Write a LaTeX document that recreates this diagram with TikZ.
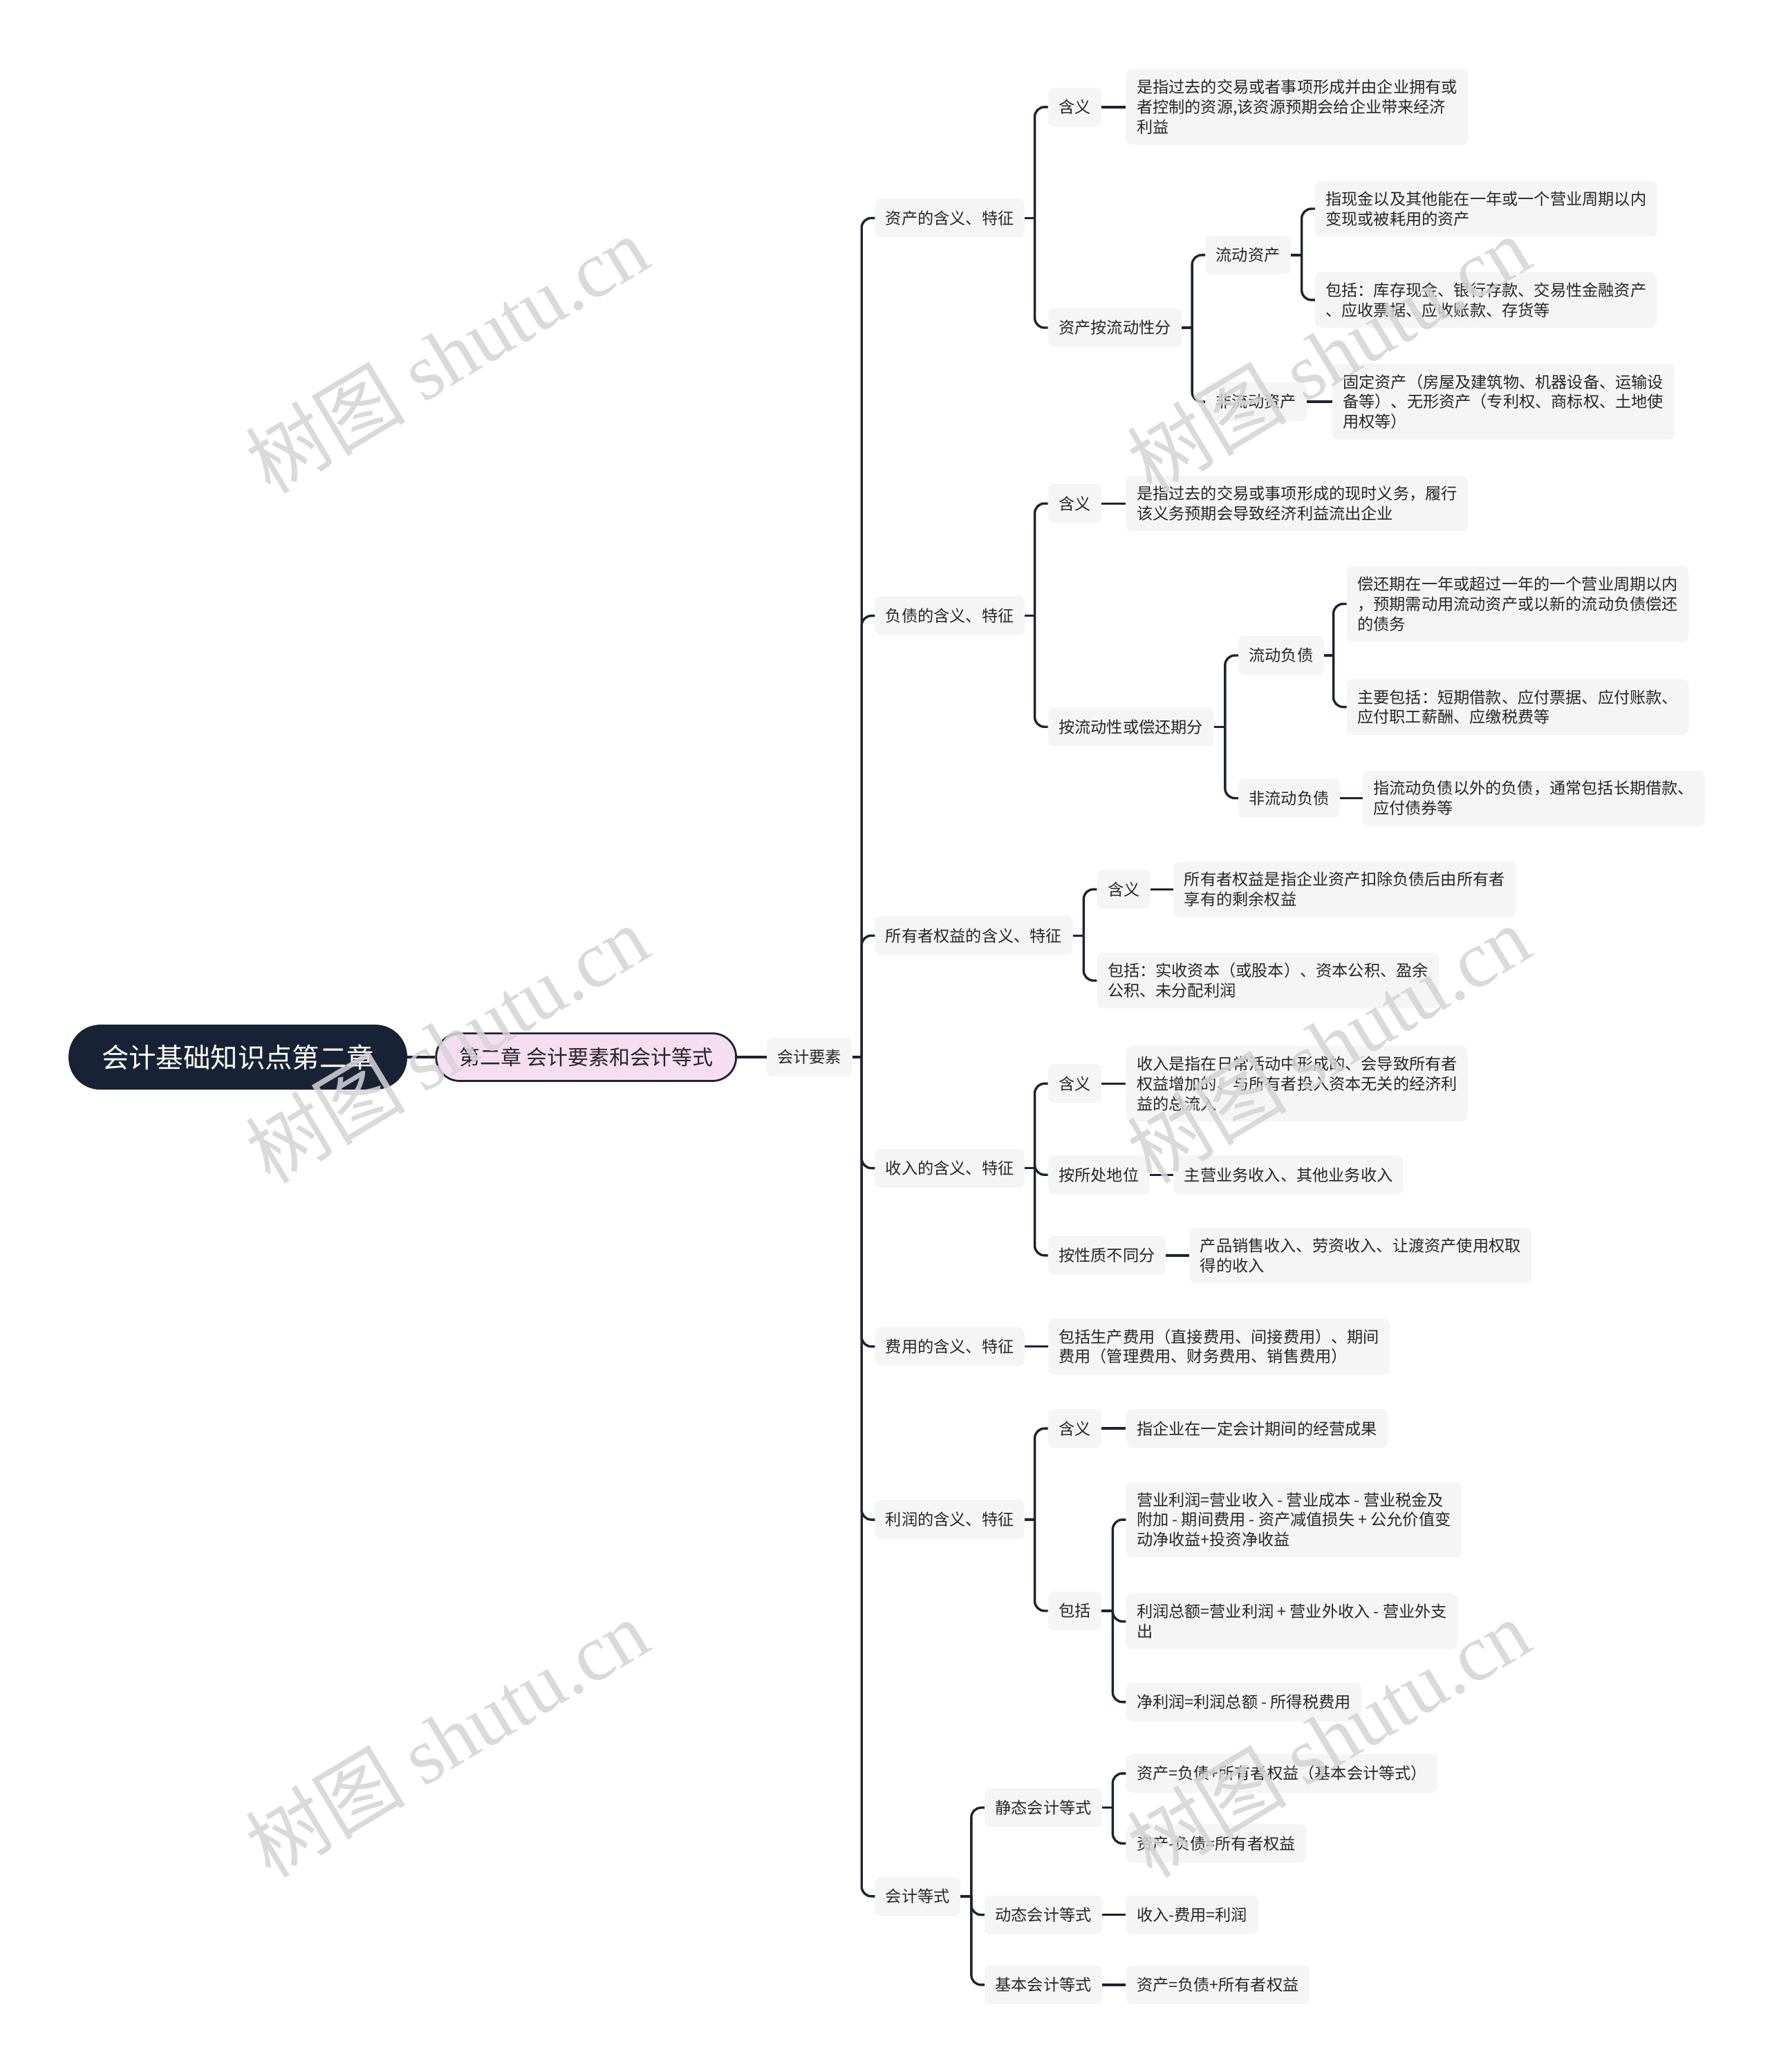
\documentclass[tikz,border=0pt]{standalone}
\usepackage{fontspec}
\setmainfont{Noto Sans CJK SC}
\newfontfamily\wmlatin{Liberation Serif}
\definecolor{linec}{HTML}{1B2433}
\definecolor{rootc}{HTML}{172234}
\definecolor{pinkc}{HTML}{F6DDF0}
\definecolor{boxc}{HTML}{F5F5F5}
\definecolor{textc}{HTML}{262626}
\definecolor{wmc}{HTML}{D4D4D4}
\newcommand\brkt[3]{%
  \draw[link] (#1.east) -- (#3,0 |- #1.east);
  \draw[link,rounded corners=7pt] (#3,0 |- #1.east) |- (#2.west);}
\newcommand\lnk[2]{\draw[link] (#1.east) -- (#2.west);}
\begin{document}
\begin{tikzpicture}[x=0.956pt,y=-0.956pt,
  link/.style={draw=linec,line width=1.7pt},
  rootnode/.style={fill=rootc,text=white,rounded corners=23pt,minimum width=245pt,minimum height=47pt,
    inner sep=0pt,font=\fontsize{19.7}{23}\selectfont},
  chapnode/.style={fill=pinkc,draw=linec,line width=1.4pt,rounded corners=17pt,minimum width=217pt,
    minimum height=34.4pt,inner sep=0pt,text=textc,font=\fontsize{15}{18}\selectfont},
  box/.style={fill=boxc,rounded corners=4pt,inner xsep=7.6pt,inner ysep=7.5pt,minimum height=28pt,
    text=textc,align=left,anchor=west,font=\fontsize{11.6}{14.4}\selectfont},
  wm/.style={text=wmc,rotate=31,font=\fontsize{58}{66}\selectfont,opacity=0.85}]
\useasboundingbox (0,0) rectangle (1339,1568);
\fill[white] (0,0) rectangle (1339,1568);

% root and chapter
\node[rootnode] (root) at (180,800) {会计基础知识点第二章};
\node[chapnode] (l1) at (443.5,800) {第二章 会计要素和会计等式};
\node[box] (l2) at (580,800) {会计要素};

% level 3
\node[box] (a) at (662,165) {资产的含义、特征};
\node[box] (b) at (662,466) {负债的含义、特征};
\node[box] (c) at (662,708) {所有者权益的含义、特征};
\node[box] (d) at (662,884) {收入的含义、特征};
\node[box] (e) at (662,1019) {费用的含义、特征};
\node[box] (f) at (662,1150) {利润的含义、特征};
\node[box] (g) at (662,1435) {会计等式};

% assets
\node[box] (a1) at (793,81) {含义};
\node[box] (a1t) at (852,81) {是指过去的交易或者事项形成并由企业拥有或\\者控制的资源,该资源预期会给企业带来经济\\利益};
\node[box] (a2) at (793,248) {资产按流动性分};
\node[box] (a2a) at (912,193) {流动资产};
\node[box] (a2a1) at (995,158) {指现金以及其他能在一年或一个营业周期以内\\变现或被耗用的资产};
\node[box] (a2a2) at (995,227) {包括：库存现金、银行存款、交易性金融资产\\、应收票据、应收账款、存货等};
\node[box] (a2b) at (912,304) {非流动资产};
\node[box] (a2b1) at (1008,304) {固定资产（房屋及建筑物、机器设备、运输设\\备等）、无形资产（专利权、商标权、土地使\\用权等）};

% liabilities
\node[box] (b1) at (793,381) {含义};
\node[box] (b1t) at (852,381) {是指过去的交易或事项形成的现时义务，履行\\该义务预期会导致经济利益流出企业};
\node[box] (b2) at (793,550) {按流动性或偿还期分};
\node[box] (b2a) at (937,496) {流动负债};
\node[box] (b2a1) at (1019,457) {偿还期在一年或超过一年的一个营业周期以内\\，预期需动用流动资产或以新的流动负债偿还\\的债务};
\node[box] (b2a2) at (1019,535) {主要包括：短期借款、应付票据、应付账款、\\应付职工薪酬、应缴税费等};
\node[box] (b2b) at (937,604) {非流动负债};
\node[box] (b2b1) at (1031,604) {指流动负债以外的负债，通常包括长期借款、\\应付债券等};

% equity
\node[box] (c1) at (830,673) {含义};
\node[box] (c1t) at (888,673) {所有者权益是指企业资产扣除负债后由所有者\\享有的剩余权益};
\node[box] (c2) at (830,742) {包括：实收资本（或股本）、资本公积、盈余\\公积、未分配利润};

% revenue
\node[box] (d1) at (793,820) {含义};
\node[box] (d1t) at (852,820) {收入是指在日常活动中形成的、会导致所有者\\权益增加的、与所有者投入资本无关的经济利\\益的总流入};
\node[box] (d2) at (793,889) {按所处地位};
\node[box] (d2t) at (888,889) {主营业务收入、其他业务收入};
\node[box] (d3) at (793,950) {按性质不同分};
\node[box] (d3t) at (900,950) {产品销售收入、劳资收入、让渡资产使用权取\\得的收入};

% expenses
\node[box] (e1) at (793,1019) {包括生产费用（直接费用、间接费用）、期间\\费用（管理费用、财务费用、销售费用）};

% profit
\node[box] (f1) at (793,1081) {含义};
\node[box] (f1t) at (852,1081) {指企业在一定会计期间的经营成果};
\node[box] (f2) at (793,1219) {包括};
\node[box] (f2a) at (852,1150) {营业利润=营业收入 - 营业成本 - 营业税金及\\附加 - 期间费用 - 资产减值损失 + 公允价值变\\动净收益+投资净收益};
\node[box] (f2b) at (852,1227) {利润总额=营业利润 + 营业外收入 - 营业外支\\出};
\node[box] (f2c) at (852,1288) {净利润=利润总额 - 所得税费用};

% equations
\node[box] (g1) at (745,1368) {静态会计等式};
\node[box] (g1a) at (852,1342) {资产=负债+所有者权益（基本会计等式）};
\node[box] (g1b) at (852,1395) {资产-负债=所有者权益};
\node[box] (g2) at (745,1449) {动态会计等式};
\node[box] (g2a) at (852,1449) {收入-费用=利润};
\node[box] (g3) at (745,1502) {基本会计等式};
\node[box] (g3a) at (852,1502) {资产=负债+所有者权益};

% connectors
\lnk{root}{l1}
\lnk{l1}{l2}
\foreach \n in {a,b,c,d,e,f,g} {\brkt{l2}{\n}{652}}
\brkt{a}{a1}{783} \brkt{a}{a2}{783}
\lnk{a1}{a1t}
\brkt{a2}{a2a}{902} \brkt{a2}{a2b}{902}
\brkt{a2a}{a2a1}{985} \brkt{a2a}{a2a2}{985}
\lnk{a2b}{a2b1}
\brkt{b}{b1}{783} \brkt{b}{b2}{783}
\lnk{b1}{b1t}
\brkt{b2}{b2a}{927} \brkt{b2}{b2b}{927}
\brkt{b2a}{b2a1}{1009} \brkt{b2a}{b2a2}{1009}
\lnk{b2b}{b2b1}
\brkt{c}{c1}{820} \brkt{c}{c2}{820}
\lnk{c1}{c1t}
\brkt{d}{d1}{783} \brkt{d}{d2}{783} \brkt{d}{d3}{783}
\lnk{d1}{d1t} \lnk{d2}{d2t} \lnk{d3}{d3t}
\lnk{e}{e1}
\brkt{f}{f1}{783} \brkt{f}{f2}{783}
\lnk{f1}{f1t}
\brkt{f2}{f2a}{842} \brkt{f2}{f2b}{842} \brkt{f2}{f2c}{842}
\brkt{g}{g1}{735} \brkt{g}{g2}{735} \brkt{g}{g3}{735}
\brkt{g1}{g1a}{842} \brkt{g1}{g1b}{842}
\lnk{g2}{g2a} \lnk{g3}{g3a}

% watermarks
\foreach \wx/\wy [count=\i] in {338/268,1005/268,338/790,1005/790,338/1315,1005/1315}
  {\node[wm] (wm\i) at (\wx,\wy) {树图 {\wmlatin shutu.cn}};}
\end{tikzpicture}
\end{document}
